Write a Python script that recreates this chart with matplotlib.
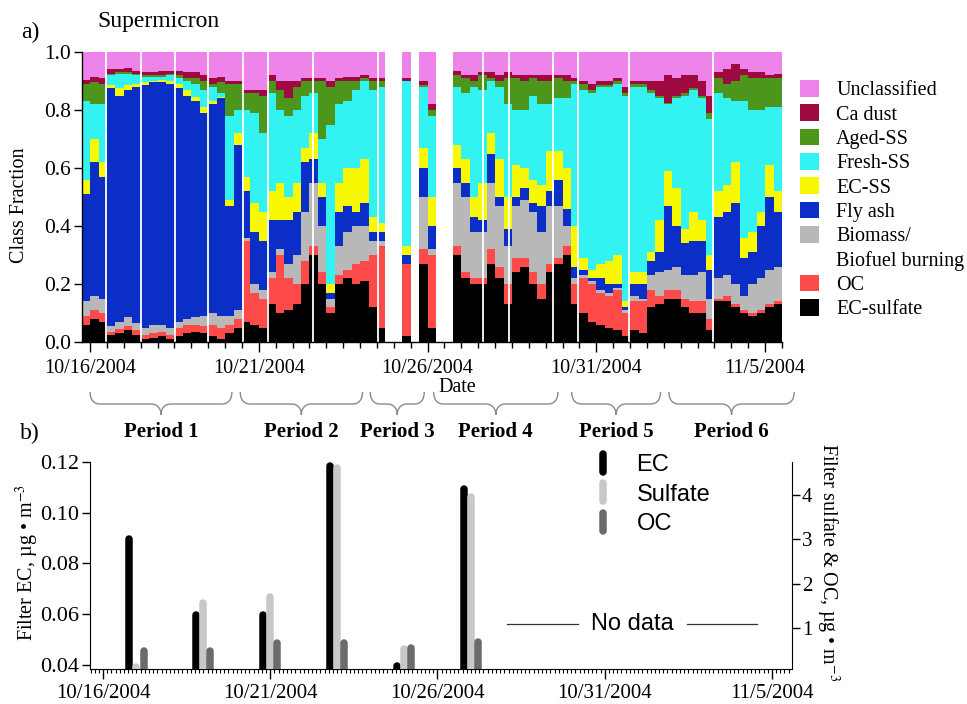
import numpy as np
import matplotlib
matplotlib.use('Agg')
import matplotlib.pyplot as plt
from matplotlib.lines import Line2D
from matplotlib.markers import MarkerStyle
from matplotlib.path import Path
from matplotlib.patches import PathPatch, Patch
from matplotlib.transforms import IdentityTransform
from matplotlib.ticker import FormatStrFormatter

plt.rcParams['font.family'] = ['Liberation Serif', 'DejaVu Serif']
plt.rcParams['mathtext.fontset'] = 'stix'

nan = np.nan
W, H = 967, 704

# ---------------- panel a: single-particle class fractions ----------------
# time cells, days since 10/16/2004 00:00 (6-hour cells)
cell_start_days = np.arange(83) * 0.25 - 0.25
cell_width_days = 0.25

# cumulative tops (stack boundaries)
top_ec_sulfate = [.06, .08, .07, .025, .03, .04, .025, .01, .015, .02, .01, .02, .03, .035, .03, .02, .01, .03, .05,
                  .07, .06, .05, .13, .10, .11, .13, .20, .30, .20, .10, .20, .22, .20, .21, .12, .05,
                  nan, nan, .02, nan, .27, .05, nan, nan,
                  .30, .22, .20, .20, .27, .22, .13, .24, .26, .20, .15, .24, .27, .30,
                  .13, .10, .07, .06, .05, .04, .02, .04, .03, .12, .13, .15, .15, .12, .10, .10, .04,
                  .14, .14, .12, .10, .09, .10, .12, .13]
top_oc = [.09, .11, .10, .035, .045, .055, .04, .025, .03, .035, .025, .05, .06, .06, .055, .06, .05, .06, .08,
          .35, .17, .15, .22, .30, .22, .20, .28, .33, .24, .12, .23, .25, .27, .28, .30, .33,
          nan, nan, .27, nan, .32, .30, nan, nan,
          .33, .24, .22, .22, .32, .26, .20, .29, .29, .24, .20, .27, .29, .33,
          .20, .22, .20, .17, .16, .18, .10, .14, .14, .18, .16, .18, .18, .15, .14, .14, .08,
          .15, .16, .13, .11, .10, .11, .13, .14]
top_biomass = [.14, .16, .15, .055, .07, .085, .065, .05, .06, .06, .05, .07, .08, .085, .09, .10, .09, .09, .11,
               .36, .20, .18, .24, .32, .27, .30, .45, .55, .40, .15, .33, .38, .40, .40, .35, .35,
               nan, nan, .27, nan, .50, .32, nan, nan,
               .55, .50, .38, .38, .55, .47, .33, .47, .49, .45, .38, .47, .47, .40,
               .22, .23, .21, .18, .17, .185, .11, .16, .15, .23, .24, .25, .26, .23, .23, .24, .15,
               .22, .23, .20, .16, .20, .22, .25, .26]
top_fly_ash = [.51, .62, .57, .875, .85, .87, .88, .885, .895, .895, .89, .875, .85, .83, .79, .82, .84, .47, .68,
               .52, .38, .35, .42, .42, .42, .45, .62, .63, .50, .17, .45, .47, .45, .48, .38, .38,
               nan, nan, .30, nan, .60, .40, nan, nan,
               .60, .55, .43, .42, .65, .50, .39, .50, .53, .48, .47, .52, .56, .46,
               .26, .25, .22, .22, .20, .20, .12, .20, .20, .28, .31, .47, .40, .34, .35, .35, .25,
               .43, .45, .48, .29, .31, .40, .50, .45]
top_ec_ss = [.56, .70, .62, .885, .875, .885, .89, .895, .90, .905, .90, .89, .87, .845, .81, .83, .845, .49, .72,
             .57, .48, .45, .52, .55, .50, .55, .67, .72, .55, .20, .55, .60, .60, .63, .43, .41,
             nan, nan, .33, nan, .67, .50, nan, nan,
             .68, .63, .50, .55, .72, .63, .50, .61, .60, .56, .54, .66, .66, .60,
             .40, .29, .25, .27, .28, .30, .14, .24, .24, .31, .42, .59, .53, .39, .45, .42, .30,
             .52, .54, .62, .36, .38, .45, .61, .52]
top_fresh_ss = [.83, .82, .82, .92, .925, .925, .92, .915, .915, .915, .92, .91, .90, .89, .87, .88, .86, .78, .80,
                .80, .79, .72, .86, .80, .78, .80, .85, .86, .70, .75, .82, .83, .87, .90, .87, .88,
                nan, nan, .90, nan, .88, .78, nan, nan,
                .88, .86, .88, .87, .90, .88, .82, .80, .80, .85, .82, .82, .84, .84,
                .89, .87, .86, .88, .88, .89, .85, .88, .88, .86, .84, .82, .84, .85, .87, .84, .77,
                .86, .84, .83, .83, .80, .80, .81, .81]
top_aged_ss = [.89, .895, .89, .925, .93, .93, .925, .92, .92, .92, .925, .92, .91, .91, .90, .89, .895, .89, .89,
               .86, .86, .85, .90, .87, .84, .88, .90, .90, .90, .88, .90, .90, .90, .91, .90, .90,
               nan, nan, .90, nan, .885, .80, nan, nan,
               .92, .91, .90, .92, .91, .90, .91, .91, .90, .91, .90, .90, .91, .90,
               .90, .89, .87, .885, .885, .90, .86, .89, .89, .87, .85, .825, .85, .86, .875, .85, .79,
               .91, .89, .90, .92, .91, .91, .91, .91]
top_ca_dust = [.905, .915, .91, .94, .94, .945, .935, .93, .93, .935, .935, .935, .93, .93, .92, .91, .915, .90, .90,
               .87, .87, .87, .92, .90, .90, .90, .91, .91, .91, .90, .91, .915, .915, .92, .91, .91,
               nan, nan, .91, nan, .90, .82, nan, nan,
               .935, .92, .92, .93, .93, .92, .93, .92, .92, .92, .92, .92, .92, .92,
               .91, .90, .89, .90, .90, .91, .88, .90, .90, .90, .90, .92, .91, .92, .92, .90, .85,
               .93, .94, .96, .94, .93, .93, .92, .925]

class_names = ['EC-sulfate', 'OC', 'Biomass/\nBiofuel burning', 'Fly ash', 'EC-SS',
               'Fresh-SS', 'Aged-SS', 'Ca dust', 'Unclassified']
class_colors = ['#000000', '#FF4A4A', '#B8B8B8', '#0B2FC6', '#F8F800',
                '#33F2F2', '#4C961C', '#9E0A40', '#EE84EA']

# short breaks in the record (thin white lines)
gap_line_days = [0.47, 1.51, 2.52, 3.50, 4.54, 5.28, 6.59, 8.52, 11.63, 12.40, 13.71, 14.45, 15.96, 18.46]

axis_tick_days = [0, 5, 10, 15, 20]
axis_tick_labels = ['10/16/2004', '10/21/2004', '10/26/2004', '10/31/2004', '11/5/2004']

period_names = ['Period 1', 'Period 2', 'Period 3', 'Period 4', 'Period 5', 'Period 6']
period_start_days = [0.0, 4.45, 8.30, 10.18, 14.27, 17.15]
period_end_days = [4.20, 8.07, 9.90, 13.86, 16.90, 20.86]

# ---------------- panel b: filter samples ----------------
filter_days = [1, 3, 5, 7, 9, 11]
filter_ec = [0.091, 0.061, 0.061, 0.120, 0.041, 0.111]
filter_sulfate = [0.20, 1.65, 1.79, 4.70, 0.62, 4.05]
filter_oc = [0.57, 0.57, 0.75, 0.75, 0.64, 0.77]

# ---------------- derived class fractions ----------------
tops = np.array([top_ec_sulfate, top_oc, top_biomass, top_fly_ash, top_ec_ss,
                 top_fresh_ss, top_aged_ss, top_ca_dust], dtype=float)
valid = ~np.isnan(tops[0])
full = np.where(valid, 1.0, nan)
levels = np.vstack([np.where(valid, 0.0, nan), tops, full])
fractions = np.diff(levels, axis=0)

fig = plt.figure(figsize=(W / 100, H / 100), dpi=100)


def rect(l, t, r, b):
    return [l / W, 1 - b / H, (r - l) / W, (b - t) / H]


# ======== panel a ========
ax1 = fig.add_axes(rect(82, 52, 782, 342))
bottom = np.where(valid, 0.0, nan)
for frac, col in zip(fractions, class_colors):
    ax1.bar(cell_start_days, frac, width=cell_width_days, bottom=bottom, align='edge',
            color=col, linewidth=0, antialiased=False)
    bottom = bottom + frac
for g in gap_line_days:
    ax1.axvline(g, color='white', lw=1.3)

ax1.set_xlim(-0.24, 20.5)
ax1.set_ylim(0, 1.0)
ax1.set_xticks(axis_tick_days)
ax1.set_xticklabels(axis_tick_labels, fontsize=14.5)
ax1.set_xticks(np.arange(0, 20.6, 0.5), minor=True)
ax1.set_yticks([0, 0.2, 0.4, 0.6, 0.8, 1.0])
ax1.yaxis.set_major_formatter(FormatStrFormatter('%.1f'))
ax1.tick_params(axis='y', labelsize=15.5, length=6, width=1, direction='out', pad=2)
ax1.tick_params(axis='x', which='major', length=7, width=1, direction='out', pad=5)
ax1.tick_params(axis='x', which='minor', length=4, width=1, direction='out')
for s in ['top', 'right']:
    ax1.spines[s].set_visible(False)
for s in ['left', 'bottom']:
    ax1.spines[s].set_linewidth(1)

ax1.set_ylabel('Class Fraction', fontsize=14.5)
ax1.yaxis.label.set_va('center')
ax1.yaxis.set_label_coords(20 / W, 1 - 205 / H, transform=fig.transFigure)
ax1.set_xlabel('Date', fontsize=14.5)
ax1.xaxis.label.set_va('center')
ax1.xaxis.set_label_coords(457 / W, 1 - 388 / H, transform=fig.transFigure)

# legend for panel a
leg_handles, leg_labels = [], []
order = [8, 7, 6, 5, 4, 3, 2, 1, 0]
for k in order:
    if k == 2:
        first, second = class_names[k].split('\n')
        leg_handles.append(Patch(facecolor=class_colors[k], edgecolor='none'))
        leg_labels.append(first)
        leg_handles.append(Patch(facecolor='none', edgecolor='none'))
        leg_labels.append(second)
    else:
        leg_handles.append(Patch(facecolor=class_colors[k], edgecolor='none'))
        leg_labels.append(class_names[k])
ax1.legend(leg_handles, leg_labels, loc='upper left', bbox_to_anchor=(800 / W, 1 - 80 / H),
           bbox_transform=fig.transFigure, frameon=False, fontsize=14.5,
           handlelength=0.95, handleheight=0.9, handletextpad=0.85, labelspacing=0.2,
           borderaxespad=0, borderpad=0)

fig.text(30 / W, 1 - 32 / H, 'a)', fontsize=17, ha='center', va='center')
fig.text(97 / W, 1 - 22 / H, 'Supermicron', fontsize=17, ha='left', va='center')
fig.text(30 / W, 1 - 433 / H, 'b)', fontsize=17, ha='center', va='center')

# period braces
fig.canvas.draw()


def xpix(day):
    return ax1.transData.transform((day, 0))[0]


y_end, y_mid, y_tip = H - 392, H - 404, H - 415
for name, d0, d1 in zip(period_names, period_start_days, period_end_days):
    x0, x1 = xpix(d0), xpix(d1)
    xc = 0.5 * (x0 + x1)
    verts = [(x0, y_end), (x0, y_end - 7), (x0 + 3, y_mid), (x0 + 10, y_mid),
             (xc - 10, y_mid),
             (xc - 4, y_mid), (xc, y_mid - 4), (xc, y_tip),
             (xc, y_mid - 4), (xc + 4, y_mid), (xc + 10, y_mid),
             (x1 - 10, y_mid),
             (x1 - 3, y_mid), (x1, y_end - 7), (x1, y_end)]
    codes = [Path.MOVETO, Path.CURVE4, Path.CURVE4, Path.CURVE4, Path.LINETO,
             Path.CURVE4, Path.CURVE4, Path.CURVE4, Path.CURVE4, Path.CURVE4, Path.CURVE4,
             Path.LINETO, Path.CURVE4, Path.CURVE4, Path.CURVE4]
    fig.add_artist(PathPatch(Path(verts, codes), facecolor='none', edgecolor='#8a8a8a',
                             lw=1.0, transform=IdentityTransform()))
    fig.text(xc / W, 1 - 432 / H, name, fontsize=15, fontweight='bold', ha='center', va='center')

# ======== panel b ========
ax2 = fig.add_axes(rect(90, 462, 792, 669))
ax3 = ax2.twinx()
ec_lo, ec_hi = 0.0384, 0.12
r_lo, r_hi = 0.075, 4.745
ax2.set_xlim(-0.39, 20.6)
ax2.set_ylim(ec_lo, ec_hi)
ax3.set_ylim(r_lo, r_hi)

bar_px = 7.5
lw_pt = bar_px * 72 / 100
ax_h_px = 207.0
cap_ec = (bar_px / 2) / ax_h_px * (ec_hi - ec_lo)
cap_r = (bar_px / 2) / ax_h_px * (r_hi - r_lo)
off = 0.21
fd = np.array(filter_days, dtype=float)
ax2.vlines(fd - off, ec_lo, np.array(filter_ec) - cap_ec, colors='#000000', lw=lw_pt, capstyle='round')
ax3.vlines(fd, r_lo, np.array(filter_sulfate) - cap_r, colors='#C8C8C8', lw=lw_pt, capstyle='round')
ax3.vlines(fd + off, r_lo, np.array(filter_oc) - cap_r, colors='#6B6B6B', lw=lw_pt, capstyle='round')

ax2.set_xticks(axis_tick_days)
ax2.set_xticklabels(axis_tick_labels, fontsize=15)
ax2.set_xticks(np.arange(-0.375, 20.6, 0.125), minor=True)
ax2.set_yticks([0.04, 0.06, 0.08, 0.10, 0.12])
ax2.yaxis.set_major_formatter(FormatStrFormatter('%.2f'))
ax2.tick_params(axis='y', labelsize=16, length=6, width=1, direction='out', pad=2)
ax2.tick_params(axis='x', which='major', length=7, width=1, direction='out', pad=4)
ax2.tick_params(axis='x', which='minor', length=3, width=0.8, direction='out')
ax3.set_yticks([1, 2, 3, 4])
ax3.tick_params(axis='y', labelsize=15, length=6, width=1, direction='out', pad=1)
for a in (ax2, ax3):
    a.spines['top'].set_visible(False)
ax2.spines['right'].set_visible(False)
ax3.spines['left'].set_visible(False)
ax3.spines['bottom'].set_visible(False)

ax2.set_ylabel('Filter EC, µg • m$^{-3}$', fontsize=14.5)
ax2.yaxis.label.set_va('center')
ax2.yaxis.set_label_coords(27 / W, 1 - 563 / H, transform=fig.transFigure)
ax3.set_ylabel('Filter sulfate & OC, µg • m$^{-3}$', fontsize=14.5, rotation=270)
ax3.yaxis.label.set_va('center')
ax3.yaxis.set_label_coords(828 / W, 1 - 562 / H, transform=fig.transFigure)

rm = MarkerStyle('|', capstyle='round')
h_ec = Line2D([], [], linestyle='None', marker=rm, markersize=13, markeredgewidth=5.4, color='#000000')
h_su = Line2D([], [], linestyle='None', marker=rm, markersize=13, markeredgewidth=5.4, color='#C8C8C8')
h_oc = Line2D([], [], linestyle='None', marker=rm, markersize=13, markeredgewidth=5.4, color='#6B6B6B')
ax3.legend([h_ec, h_su, h_oc], ['EC', 'Sulfate', 'OC'], loc='upper left',
           bbox_to_anchor=(588 / W, 1 - 454 / H), bbox_transform=fig.transFigure,
           frameon=False, prop={'family': 'Liberation Sans', 'size': 17},
           handlelength=1.3, handletextpad=0.75, labelspacing=0.32, borderpad=0, borderaxespad=0)

fig.text(632 / W, 1 - 624 / H, 'No data', fontsize=17, family='Liberation Sans',
         ha='center', va='center')
fig.add_artist(Line2D([507 / W, 578 / W], [1 - 624 / H, 1 - 624 / H], color='#333333', lw=0.9))
fig.add_artist(Line2D([687 / W, 757 / W], [1 - 624 / H, 1 - 624 / H], color='#333333', lw=0.9))

fig.savefig('out.png', dpi=100)
